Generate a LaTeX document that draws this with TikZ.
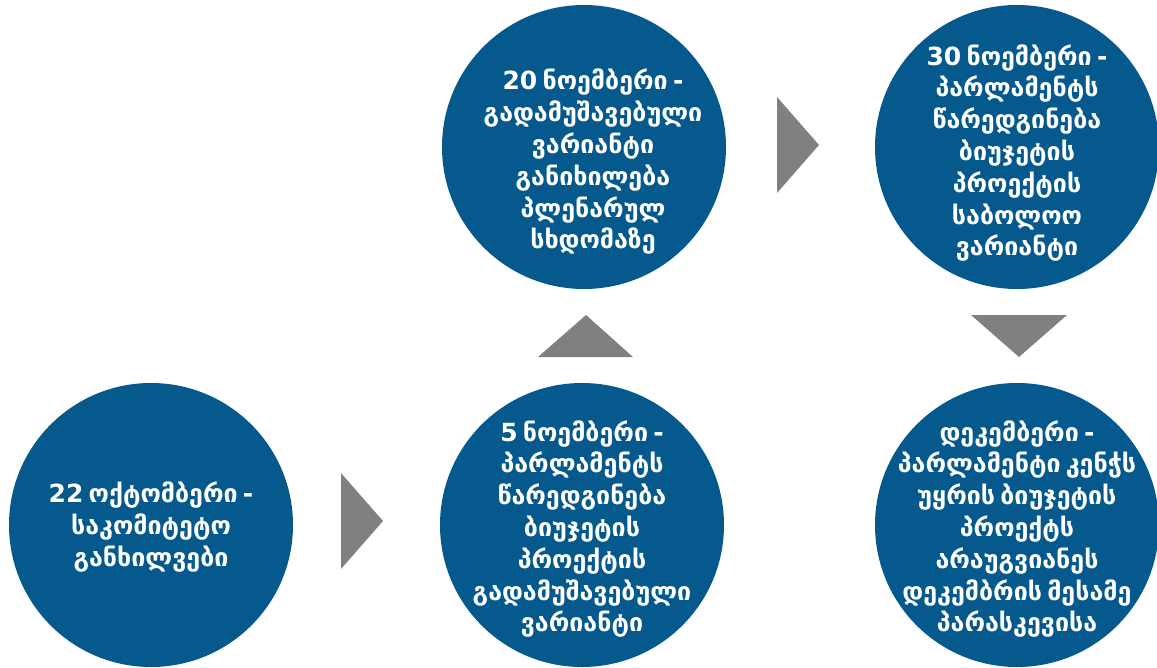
\documentclass[tikz,border=0pt]{standalone}
\usepackage{fontspec}
\newfontfamily\geofont[WordSpace=0.6]{DejaVu Sans}
\definecolor{stageblue}{RGB}{5,89,140}
\definecolor{arrowgray}{RGB}{128,128,128}
\begin{document}
\begin{tikzpicture}[x=1pt,y=-1pt,
  stage/.style={circle,fill=stageblue,draw=none,minimum size=284pt,inner sep=0pt},
  stagetext/.style={text=white,align=center,inner sep=0pt,
    font=\geofont\bfseries\fontsize{25}{31.8}\selectfont},
  pointer/.style={fill=arrowgray,draw=none}]
\useasboundingbox (0,0) rectangle (1157,667);

% timeline stages
\node[stage] (s1) at (151,525) {};
\node[stage] (s2) at (582,525) {};
\node[stage] (s3) at (584,147) {};
\node[stage] (s4) at (1017,147) {};
\node[stage] (s5) at (1017,525) {};

\node[stagetext] (t1) at (151,527) {22 ოქტომბერი -\\საკომიტეტო\\განხილვები};
\node[stagetext] (t2) at (582,529) {5 ნოემბერი -\\პარლამენტს\\წარედგინება\\ბიუჯეტის\\პროექტის\\გადამუშავებული\\ვარიანტი};
\node[stagetext] (t3) at (593,162) {20 ნოემბერი -\\გადამუშავებული\\ვარიანტი\\განიხილება\\პლენარულ\\სხდომაზე};
\node[stagetext] (t4) at (1017,153) {30 ნოემბერი -\\პარლამენტს\\წარედგინება\\ბიუჯეტის\\პროექტის\\საბოლოო\\ვარიანტი};
\node[stagetext] (t5) at (1017,529) {დეკემბერი -\\პარლამენტი კენჭს\\უყრის ბიუჯეტის\\პროექტს\\არაუგვიანეს\\დეკემბრის მესამე\\პარასკევისა};

% direction markers between stages
\fill[pointer] (341,473) -- (383,521) -- (341,569) -- cycle;
\fill[pointer] (538,357) -- (586,315) -- (633,357) -- cycle;
\fill[pointer] (777,97) -- (819,145) -- (777,193) -- cycle;
\fill[pointer] (971,315) -- (1067,315) -- (1019,357) -- cycle;
\end{tikzpicture}
\end{document}
